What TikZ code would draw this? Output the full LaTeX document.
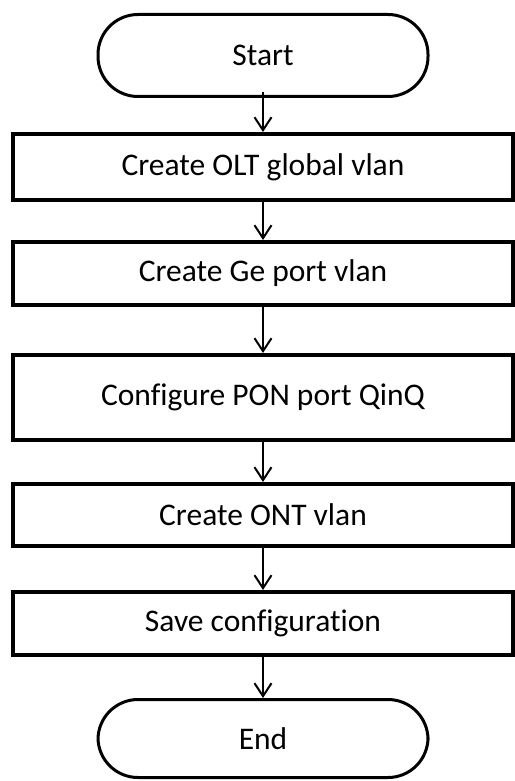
\documentclass[tikz,border=0pt]{standalone}
\usepackage{fontspec}
\setmainfont{Carlito}[Ligatures=NoCommon]
\usepackage{tikz}
\usetikzlibrary{shapes, arrows.meta, positioning}
\tikzstyle{block} = [rectangle, draw, line width=4pt, minimum width=500pt,
    text centered, inner sep=0pt]
\tikzstyle{terminal} = [rectangle, draw, line width=3pt, minimum width=330pt,
    rounded corners=40pt, inner sep=0pt]
\tikzstyle{line} = [draw, line width=2pt, -{Straight Barb[length=13pt, width=17pt]}]

\begin{document}
\begin{tikzpicture}[x=1pt, y=1pt, node distance=34pt, font=\fontsize{31.5}{37}\selectfont]
        \useasboundingbox (0,0) rectangle (514,-781);
        % Place nodes
        \node [terminal, minimum height=82pt] (start) at (263,-55.5) {Start};
        \node [block, minimum height=66pt, below=34pt of start] (olt) {Create OLT global vlan};
        \node [block, minimum height=63pt, below=38pt of olt] (ge) {Create Ge port vlan};
        \node [block, minimum height=85pt, below=46pt of ge] (pon) {Configure PON port QinQ};
        \node [block, minimum height=62pt, below=40pt of pon] (ont) {Create ONT vlan};
        \node [block, minimum height=63pt, below=42pt of ont] (save) {Save configuration};
        \node [terminal, minimum height=78pt, below=41pt of save] (end) {End};
        % Draw edges
        \path [line] ([yshift=6pt]start.south) -- (olt.north);
        \path [line] (olt) -- (ge);
        \path [line] (ge) -- (pon);
        \path [line] (pon) -- (ont);
        \path [line] (ont) -- (save);
        \path [line] (save) -- (end);
    \end{tikzpicture}
\end{document}
